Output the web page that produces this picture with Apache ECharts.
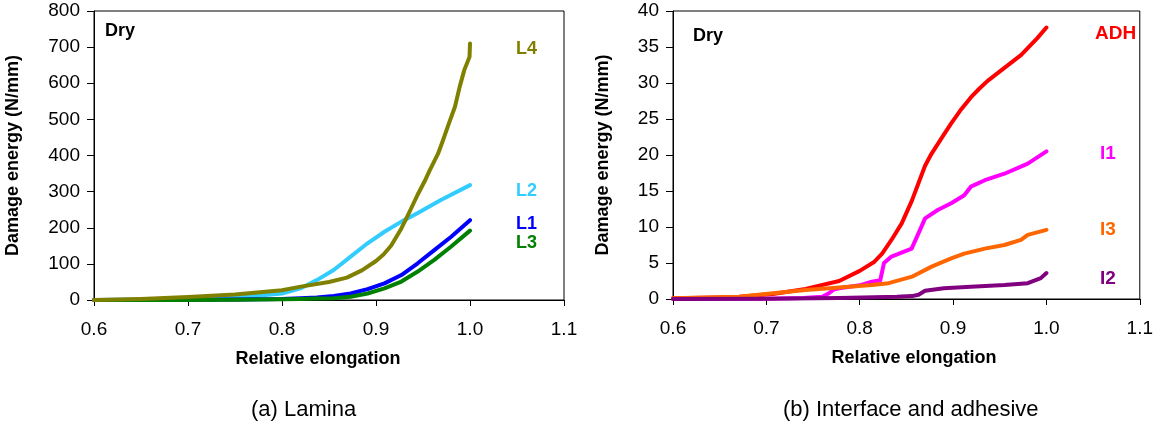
<!DOCTYPE html>
<html>
<head>
<meta charset="utf-8">
<script src="https://cdn.jsdelivr.net/npm/echarts@6/dist/echarts.min.js"></script>
<style>
html,body{margin:0;padding:0;background:#fff;}
#c{width:1156px;height:423px;}
</style>
</head>
<body>
<div id="c"></div>
<script>
// ---- Axis ticks ----
const xTicks = [0.6, 0.7, 0.8, 0.9, 1.0, 1.1];
const leftYTicks = [0, 100, 200, 300, 400, 500, 600, 700, 800];
const rightYTicks = [0, 5, 10, 15, 20, 25, 30, 35, 40];

// ---- (a) Lamina ----
const L4_x = [0.6, 0.65, 0.7, 0.75, 0.8, 0.82, 0.85, 0.869, 0.885, 0.9, 0.908, 0.916, 0.927, 0.934, 0.944, 0.952, 0.957, 0.966, 0.971, 0.977, 0.984, 0.989, 0.994, 0.9995, 1.0];
const L4_y = [0, 3, 8, 15, 27, 37, 50, 62, 82, 108, 126, 150, 198, 235, 290, 330, 358, 405, 440, 485, 535, 590, 637, 673, 710];

const L2_x = [0.6, 0.7, 0.75, 0.8, 0.8195, 0.837, 0.855, 0.873, 0.891, 0.909, 0.927, 0.944, 0.969, 1.0];
const L2_y = [0, 2, 6, 18, 32, 55, 83, 120, 157, 189, 217, 240, 277, 318];

const L1_x = [0.6, 0.7, 0.75, 0.8, 0.8195, 0.837, 0.855, 0.873, 0.891, 0.909, 0.927, 0.944, 0.962, 0.98, 1.0];
const L1_y = [0, 0.5, 1.5, 3, 5, 7, 11, 18, 30, 46, 69, 101, 138, 175, 221];

const L3_x = [0.6, 0.7, 0.75, 0.8, 0.8195, 0.837, 0.855, 0.873, 0.891, 0.909, 0.927, 0.944, 0.962, 0.98, 1.0];
const L3_y = [0, 0.3, 1, 2, 3, 4, 5, 9, 18, 32, 51, 78, 111, 148, 192];

// ---- (b) Interface and adhesive ----
const ADH_x = [0.6, 0.65, 0.671, 0.707, 0.742, 0.778, 0.8, 0.815, 0.824, 0.834, 0.845, 0.856, 0.863, 0.870, 0.877, 0.8875, 0.898, 0.909, 0.919, 0.928, 0.937, 0.955, 0.973, 0.99, 1.0];
const ADH_y = [0.1, 0.2, 0.3, 0.7, 1.4, 2.5, 3.9, 5.1, 6.3, 8.2, 10.5, 13.7, 16.1, 18.5, 20.2, 22.3, 24.4, 26.4, 28.0, 29.2, 30.3, 32.1, 33.9, 36.2, 37.7];

const I1_x = [0.6, 0.7, 0.74, 0.76, 0.767, 0.772, 0.778, 0.8, 0.813, 0.822, 0.826, 0.834, 0.8556, 0.8646, 0.870, 0.884, 0.898, 0.912, 0.919, 0.934, 0.955, 0.98, 1.0];
const I1_y = [0, 0.05, 0.15, 0.3, 0.8, 1.3, 1.5, 1.9, 2.4, 2.6, 5.0, 5.9, 7.0, 9.6, 11.2, 12.4, 13.3, 14.4, 15.6, 16.5, 17.4, 18.8, 20.5];

const I3_x = [0.6, 0.671, 0.707, 0.742, 0.778, 0.813, 0.831, 0.856, 0.877, 0.898, 0.912, 0.934, 0.955, 0.9727, 0.98, 1.0];
const I3_y = [0.1, 0.3, 0.8, 1.25, 1.6, 1.95, 2.2, 3.1, 4.5, 5.65, 6.3, 7.0, 7.5, 8.2, 8.9, 9.6];

const I2_x = [0.6, 0.7, 0.778, 0.84, 0.856, 0.863, 0.870, 0.89, 0.919, 0.955, 0.98, 0.994, 1.0];
const I2_y = [0, 0.05, 0.15, 0.3, 0.4, 0.6, 1.15, 1.5, 1.7, 1.95, 2.2, 2.9, 3.6];

const zip = (xs, ys) => xs.map((x, i) => [x, ys[i]]);

const FONT = '"Liberation Sans", Arial, sans-serif';

function mkX(gi, pad) {
  return {
    type: 'value', gridIndex: gi, min: 0.6, max: 1.1, interval: 0.1,
    name: 'Relative elongation', nameLocation: 'middle', nameGap: 50,
    nameTextStyle: { fontFamily: FONT, fontSize: 18, fontWeight: 'bold', color: '#000', padding: pad },
    axisLine: { show: true, onZero: false, lineStyle: { color: '#000', width: 1 } },
    axisTick: { show: true, inside: false, length: 6, lineStyle: { color: '#000' } },
    axisLabel: { fontFamily: FONT, fontSize: 19, color: '#000', margin: 20,
      formatter: v => v.toFixed(1) },
    splitLine: { show: false }
  };
}
function mkY(gi, max, interval, gap) {
  return {
    type: 'value', gridIndex: gi, min: 0, max: max, interval: interval,
    name: 'Damage energy (N/mm)', nameLocation: 'middle', nameGap: gap,
    nameTextStyle: { fontFamily: FONT, fontSize: 18, fontWeight: 'bold', color: '#000' },
    axisLine: { show: true, lineStyle: { color: '#000', width: 1 } },
    axisTick: { show: true, inside: false, length: 7, lineStyle: { color: '#000' } },
    axisLabel: { fontFamily: FONT, fontSize: 19, color: '#000', margin: 14 },
    splitLine: { show: false }
  };
}
function mkLine(name, xs, ys, color, gi) {
  return {
    name: name, type: 'line', xAxisIndex: gi, yAxisIndex: gi,
    data: zip(xs, ys), showSymbol: false, smooth: false,
    lineStyle: { color: color, width: 4, cap: 'round', join: 'round' }, itemStyle: { color: color },
    animation: false, z: 3
  };
}
function txt(x, y, s, color, size) {
  return {
    type: 'text', left: x, top: y,
    style: { text: s, fill: color, font: 'bold ' + (size || 18) + 'px ' + FONT }
  };
}

const chart = echarts.init(document.getElementById('c'), null, { renderer: 'canvas' });
chart.setOption({
  animation: false,
  backgroundColor: '#fff',
  grid: [
    { left: 94, top: 11, width: 470, height: 289, show: true, borderColor: '#000', borderWidth: 1, backgroundColor: 'transparent' },
    { left: 673, top: 11, width: 470, height: 288, show: true, borderColor: '#000', borderWidth: 1, backgroundColor: 'transparent' }
  ],
  xAxis: [mkX(0, [0, 22, 0, 0]), mkX(1, [0, 0, 0, 15])],
  yAxis: [mkY(0, 800, 100, 72), mkY(1, 40, 5, 61)],
  series: [
    mkLine('L2', L2_x, L2_y, '#33CCFF', 0),
    mkLine('L1', L1_x, L1_y, '#0000FF', 0),
    mkLine('L3', L3_x, L3_y, '#008000', 0),
    mkLine('L4', L4_x, L4_y, '#808000', 0),
    mkLine('ADH', ADH_x, ADH_y, '#FF0000', 1),
    mkLine('I1', I1_x, I1_y, '#FF00FF', 1),
    mkLine('I3', I3_x, I3_y, '#FF6600', 1),
    mkLine('I2', I2_x, I2_y, '#800080', 1)
  ],
  graphic: [
    txt(105, 22, 'Dry', '#000'),
    txt(693, 27, 'Dry', '#000'),
    txt(516, 40, 'L4', '#808000'),
    txt(516, 182, 'L2', '#33CCFF'),
    txt(516, 215, 'L1', '#0000FF'),
    txt(516, 234, 'L3', '#008000'),
    txt(1095, 24, 'ADH', '#FF0000', 19),
    txt(1100, 144, 'I1', '#FF00FF', 19),
    txt(1100, 220, 'I3', '#FF6600', 19),
    txt(1100, 269, 'I2', '#800080', 19),
    { type: 'text', left: 251, top: 399, style: { text: '(a) Lamina', fill: '#000', font: '22px ' + FONT } },
    { type: 'text', left: 783, top: 399, style: { text: '(b) Interface and adhesive', fill: '#000', font: '22px ' + FONT } }
  ]
});
</script>
</body>
</html>
